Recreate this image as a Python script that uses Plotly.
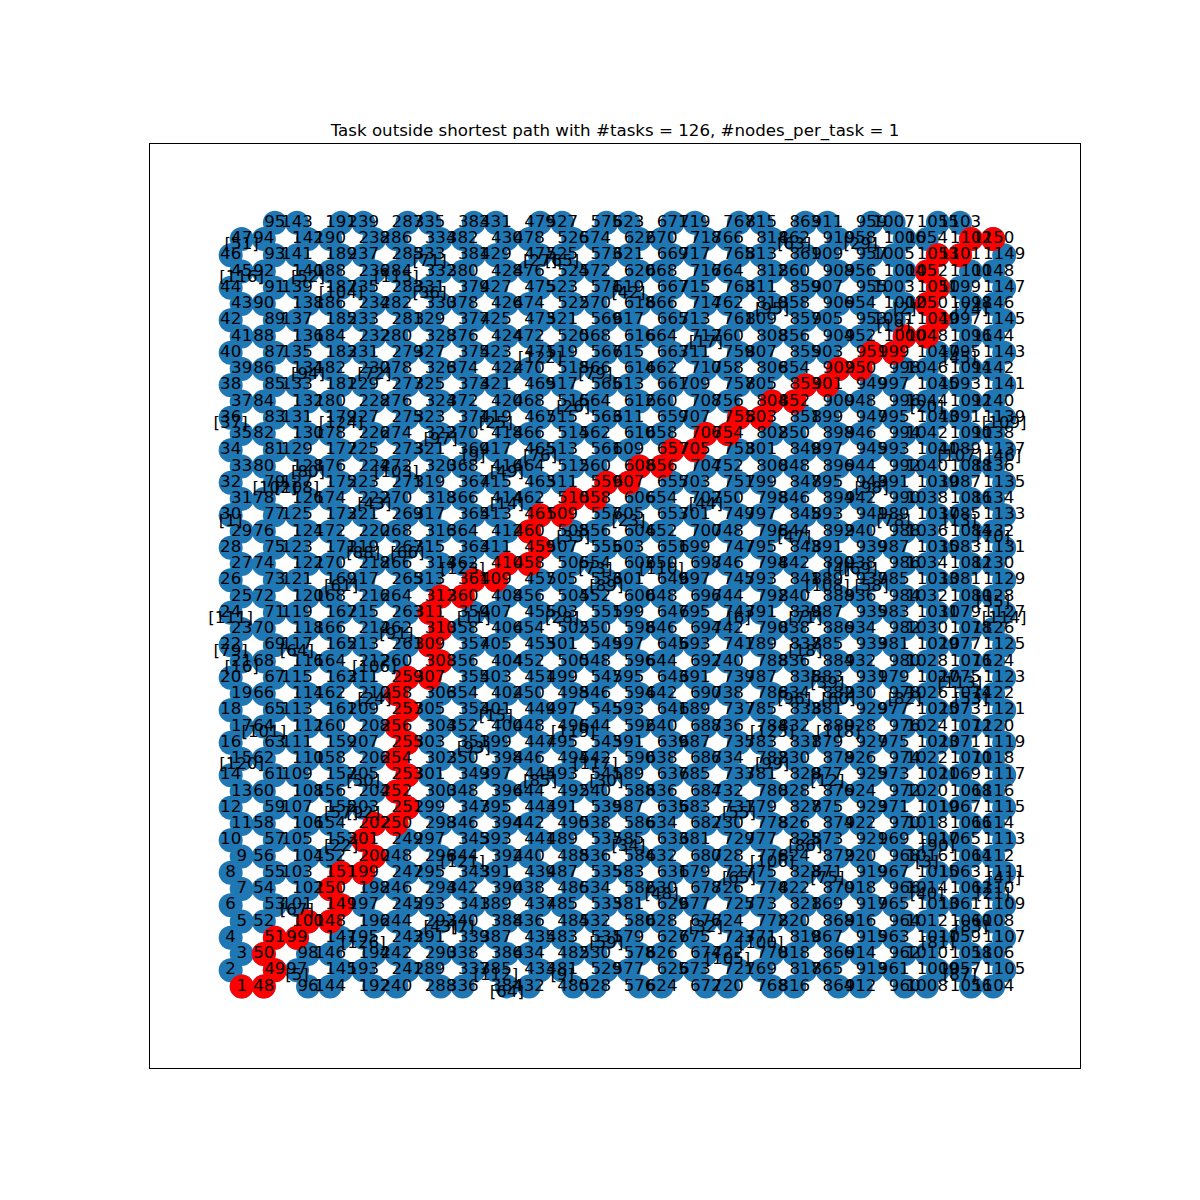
import math
import plotly.graph_objects as go

# hexagonal lattice: 23 rows x 23 columns of hexagons (nodes numbered from 1)
M_ROWS = 23
N_COLS = 23

TITLE = "Task outside shortest path with #tasks = 126, #nodes_per_task = 1"

# nodes of the shortest path (drawn red)
path_nodes = [1, 48, 49, 50, 51, 99, 100, 148, 149, 150, 151, 199, 200, 201, 202,
              250, 251, 252, 253, 254, 255, 256, 257, 258, 259,
              307, 308, 309, 310, 311, 312, 360, 361, 409, 410,
              458, 459, 460, 461, 509, 510, 558, 559, 607, 608, 656, 657,
              705, 706, 754, 755, 803, 804, 852, 853, 901, 902, 950, 951,
              999, 1000, 1048, 1049, 1050, 1051, 1052, 1053, 1101, 1102, 1150]

# task ids and the node each task label sits on
task_ids = [51, 116, 52, 104, 115, 71, 36, 27, 65, 122, 79, 94, 72, 37, 124, 97, 25, 76, 26, 9,
            49, 103, 80, 102, 108, 43, 14, 1, 88, 66, 123, 33, 73, 89, 61,
            63, 29, 42, 95, 2, 19, 74, 17, 45, 20, 109, 107, 46, 98, 44, 78, 23, 13, 70, 47,
            110, 4, 69, 108, 58,
            6, 71, 114, 35, 18, 113, 39, 96, 60, 82, 53, 125, 118, 99, 12, 55, 86, 106, 90, 3,
            65, 75, 41, 48, 40, 21, 32, 83, 81, 100, 105, 87, 34,
            111, 11, 28, 91, 79, 64, 16, 106, 24, 15, 119, 101, 93, 120, 117, 50, 85, 30, 57, 92,
            22, 121, 67, 43, 7, 126, 59, 5, 112, 64, 9]
task_nodes = [47, 45, 140, 187, 284, 333, 331, 477, 525, 471, 566, 134, 230, 36, 179, 322, 419, 465, 516, 369,
              416, 272, 128, 79, 127, 222, 414, 30, 219, 267, 362, 508, 554, 553, 169,
              862, 958, 619, 810, 1002, 1001, 1098, 712, 1095, 1044, 1139, 1089, 1137, 943, 702, 989, 605, 1085, 1132, 844,
              650, 890, 938, 889, 937,
              743, 839, 1127, 1128, 837, 1075, 883, 834, 882, 978, 1074, 784, 880, 782, 877, 731, 825, 776, 1017, 1016,
              727, 871, 1111, 630, 1014, 1110, 676, 1060, 1011, 771, 722, 1057, 585,
              24, 359, 503, 262, 22, 117, 21, 212, 210, 401, 496, 64, 351, 15, 542, 205, 445, 541, 155, 203,
              153, 344, 101, 292, 340, 195, 531, 97, 385, 384, 481]

# ---- lattice layout (same as networkx.hexagonal_lattice_graph positions) ----
rows = range(2 * M_ROWS + 2)
cols = range(N_COLS + 1)
removed = {(0, 2 * M_ROWS + 1), (N_COLS, (2 * M_ROWS + 1) * (N_COLS % 2))}
h = math.sqrt(3) / 2
pos = {}
label = 1
for i in cols:
    for j in rows:
        if (i, j) in removed:
            continue
        x = 0.5 + i + i // 2 + (j % 2) * ((i % 2) - 0.5)
        pos[label] = (x, h * j)
        label += 1

node_ids = list(pos.keys())
FONT = "DejaVu Sans"
FONT_SIZE = 16.67
BLUE = "#1f77b4"

fig = go.Figure()
fig.add_trace(go.Scatter(
    x=[pos[k][0] for k in node_ids], y=[pos[k][1] for k in node_ids],
    mode="markers", marker=dict(size=24, color=BLUE, line=dict(width=0)),
    hoverinfo="skip", showlegend=False))
fig.add_trace(go.Scatter(
    x=[pos[k][0] for k in path_nodes], y=[pos[k][1] for k in path_nodes],
    mode="markers", marker=dict(size=24, color="#ff0000", line=dict(width=0)),
    hoverinfo="skip", showlegend=False))
fig.add_trace(go.Scatter(
    x=[pos[k][0] for k in node_ids], y=[pos[k][1] for k in node_ids],
    mode="text", text=[str(k) for k in node_ids], textposition="middle center",
    textfont=dict(family=FONT, size=FONT_SIZE, color="black"),
    hoverinfo="skip", showlegend=False))
LABEL_DY = -0.33
fig.add_trace(go.Scatter(
    x=[pos[k][0] for k in task_nodes], y=[pos[k][1] + LABEL_DY for k in task_nodes],
    mode="text", text=[f"[{t}]" for t in task_ids], textposition="middle center",
    textfont=dict(family=FONT, size=FONT_SIZE, color="black"),
    hoverinfo="skip", showlegend=False))

axis_common = dict(showgrid=False, zeroline=False, showticklabels=False, ticks="",
                   showline=True, mirror=True, linecolor="black", linewidth=1)
# the page body adds an 8px offset, so margins are shifted to compensate
fig.update_layout(
    width=1200, height=1200,
    margin=dict(l=142, r=128, t=136, b=140),
    paper_bgcolor="white", plot_bgcolor="white",
    xaxis=dict(range=[-3.65, 38.43], **axis_common),
    yaxis=dict(range=[-4.35, 44.9], **axis_common),
    title=dict(text=TITLE, x=0.5, xref="paper", xanchor="center",
               y=1 - 122 / 1200, yref="container", yanchor="middle",
               font=dict(family=FONT, size=FONT_SIZE, color="black")),
    showlegend=False,
)
fig.write_html("out.html")
